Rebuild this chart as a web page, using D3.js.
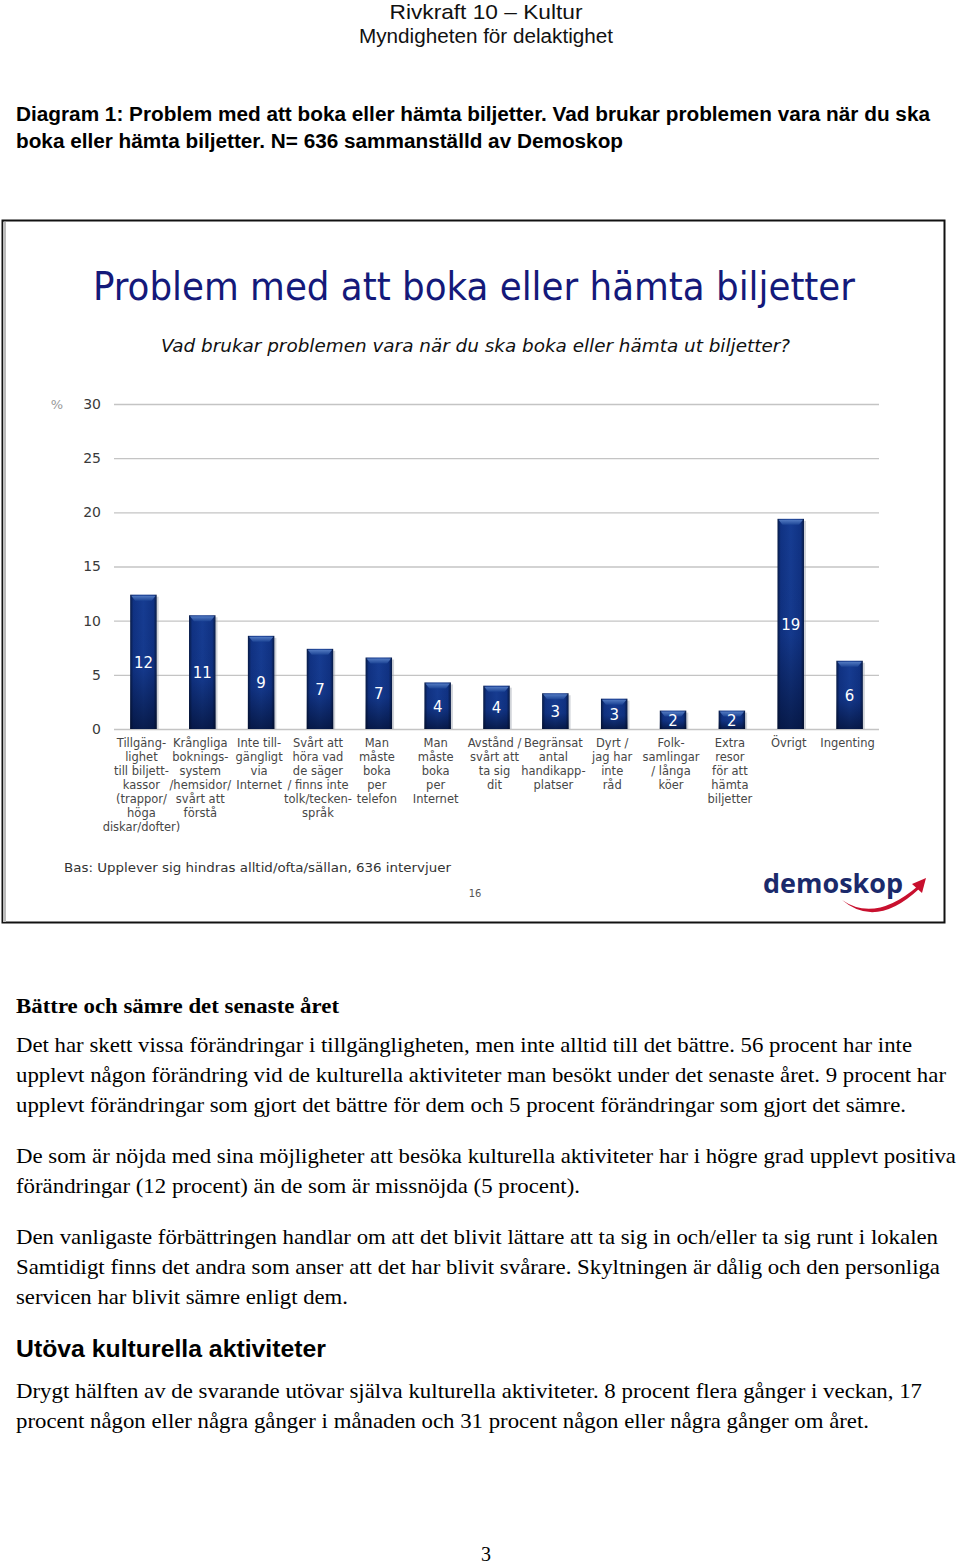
<!DOCTYPE html>
<html>
<head>
<meta charset="utf-8">
<script src="https://cdn.jsdelivr.net/npm/d3@7"></script>
<style>
  html, body { margin: 0; padding: 0; background: #fff; }
  svg { display: block; }
</style>
</head>
<body>
<svg id="page" width="960" height="1565"></svg>
<script>
// ---------- DATA ----------
const categories = [
  ["Tillgäng-", "lighet", "till biljett-", "kassor", "(trappor/", "höga", "diskar/dofter)"],
  ["Krångliga", "boknings-", "system", "/hemsidor/", "svårt att", "förstå"],
  ["Inte till-", "gängligt", "via", "Internet"],
  ["Svårt att", "höra vad", "de säger", "/ finns inte", "tolk/tecken-", "språk"],
  ["Man", "måste", "boka", "per", "telefon"],
  ["Man", "måste", "boka", "per", "Internet"],
  ["Avstånd /", "svårt att", "ta sig", "dit"],
  ["Begränsat", "antal", "handikapp-", "platser"],
  ["Dyrt /", "jag har", "inte", "råd"],
  ["Folk-", "samlingar", "/ långa", "köer"],
  ["Extra", "resor", "för att", "hämta", "biljetter"],
  ["Övrigt"],
  ["Ingenting"]
];
const values = [12.4, 10.5, 8.6, 7.4, 6.6, 4.3, 4.0, 3.3, 2.8, 1.7, 1.7, 19.4, 6.3];
const yTicks = [0, 5, 10, 15, 20, 25, 30];

const chartTitle = "Problem med att boka eller hämta biljetter";
const chartSubtitle = "Vad brukar problemen vara när du ska boka eller hämta ut biljetter?";
const baseNote = "Bas: Upplever sig hindras alltid/ofta/sällan, 636 intervjuer";
const slideNo = "16";

// ---------- PAGE ----------
const svg = d3.select("#page");
const defs = svg.append("defs");

function txt(g, s, x, y, opts) {
  const t = g.append("text").attr("x", x).attr("y", y).text(s);
  Object.entries(opts || {}).forEach(([k, v]) => t.attr(k, v));
  return t;
}

// Header
txt(svg, "Rivkraft 10 – Kultur", 486, 19, {"text-anchor": "middle", "font-family": "Liberation Sans Narrow, Liberation Sans, Arial", "font-size": 21, "fill": "#111", "textLength": 193, "lengthAdjust": "spacingAndGlyphs"});
txt(svg, "Myndigheten för delaktighet", 486, 43, {"text-anchor": "middle", "font-family": "Liberation Sans Narrow, Liberation Sans, Arial", "font-size": 20, "fill": "#111", "textLength": 254, "lengthAdjust": "spacingAndGlyphs"});

txt(svg, "Diagram 1: Problem med att boka eller hämta biljetter. Vad brukar problemen vara när du ska", 16, 121, {"font-family": "Liberation Sans Narrow, Liberation Sans, Arial", "font-weight": "bold", "font-size": 20, "fill": "#000", "textLength": 914, "lengthAdjust": "spacingAndGlyphs"});
txt(svg, "boka eller hämta biljetter. N= 636 sammanställd av Demoskop", 16, 148, {"font-family": "Liberation Sans Narrow, Liberation Sans, Arial", "font-weight": "bold", "font-size": 20, "fill": "#000", "textLength": 607, "lengthAdjust": "spacingAndGlyphs"});

// ---------- CHART FRAME ----------
const frame = svg.append("g");
frame.append("rect").attr("x", 2.5).attr("y", 220.5).attr("width", 942).attr("height", 702)
  .attr("fill", "#fff").attr("stroke", "#111").attr("stroke-width", 2);
frame.append("line").attr("x1", 4.5).attr("x2", 4.5).attr("y1", 222).attr("y2", 922)
  .attr("stroke", "#bbb").attr("stroke-width", 3);

txt(svg, chartTitle, 93, 300, {"font-family": "DejaVu Sans Condensed, DejaVu Sans, Verdana", "font-size": 39, "fill": "#14197a", "textLength": 762, "lengthAdjust": "spacingAndGlyphs"});
txt(svg, chartSubtitle, 161, 352, {"font-family": "DejaVu Sans Condensed, DejaVu Sans, Verdana", "font-style": "italic", "font-size": 18, "fill": "#111", "textLength": 629, "lengthAdjust": "spacingAndGlyphs"});

// ---------- SCALES ----------
const x = d3.scaleBand().domain(d3.range(categories.length)).range([114, 879])
  .paddingInner(0.55).paddingOuter(0.275);
const y = d3.scaleLinear().domain([0, 30]).range([729, 404]);

const plot = svg.append("g");

// gridlines via axis
const yAxis = d3.axisLeft(y).tickValues(yTicks).tickSize(-(879 - 114)).tickPadding(13);
const ax = plot.append("g").attr("transform", "translate(114,0)").call(yAxis);
ax.select(".domain").remove();
ax.selectAll(".tick line").attr("stroke", "#c4c4c4").attr("stroke-width", 1.3);
ax.selectAll(".tick text").attr("font-family", "DejaVu Sans, Verdana").attr("font-size", 14).attr("fill", "#3a3a3a");
txt(plot, "%", 57, 409, {"text-anchor": "middle", "font-family": "DejaVu Sans, Verdana", "font-size": 13, "fill": "#9a9a9a"});

// gradients
const hg = defs.append("linearGradient").attr("id", "barH").attr("x1", 0).attr("x2", 1).attr("y1", 0).attr("y2", 0);
[[0, "#071a45"], [0.12, "#103283"], [0.5, "#163c92"], [0.88, "#103283"], [1, "#071a45"]]
  .forEach(([o, c]) => hg.append("stop").attr("offset", o).attr("stop-color", c));
const vg = defs.append("linearGradient").attr("id", "barV").attr("x1", 0).attr("x2", 0).attr("y1", 0).attr("y2", 1);
[[0, "#000820", 0], [0.55, "#000820", 0.05], [1, "#000820", 0.6]]
  .forEach(([o, c, a]) => vg.append("stop").attr("offset", o).attr("stop-color", c).attr("stop-opacity", a));
const cg = defs.append("linearGradient").attr("id", "barCap").attr("x1", 0).attr("x2", 0).attr("y1", 0).attr("y2", 1);
[[0, "#5a82c8"], [1, "#1d4596"]].forEach(([o, c]) => cg.append("stop").attr("offset", o).attr("stop-color", c));

const bw = x.bandwidth();
const bars = plot.selectAll("g.bar").data(values).join("g").attr("class", "bar");
// shadow
bars.append("rect")
  .attr("x", (d, i) => x(i) + 2).attr("y", d => y(d) + 2)
  .attr("width", bw).attr("height", d => y(0) - y(d) - 2)
  .attr("fill", "#9aa0aa").attr("opacity", 0.45);
bars.append("rect")
  .attr("x", (d, i) => x(i)).attr("y", d => y(d))
  .attr("width", bw).attr("height", d => y(0) - y(d))
  .attr("fill", "url(#barH)");
bars.append("rect")
  .attr("x", (d, i) => x(i)).attr("y", d => y(d))
  .attr("width", bw).attr("height", d => y(0) - y(d))
  .attr("fill", "url(#barV)");
// top cap bevel
bars.append("path")
  .attr("d", (d, i) => {
    const x0 = x(i), yt = y(d);
    return `M${x0 + 1},${yt + 1}L${x0 + bw - 1},${yt + 1}L${x0 + bw - 5},${yt + 6}L${x0 + 5},${yt + 6}Z`;
  })
  .attr("fill", "url(#barCap)").attr("opacity", 0.9);
// value labels
bars.append("text")
  .attr("x", (d, i) => x(i) + bw / 2)
  .attr("y", d => (y(d) + y(0)) / 2 + 6)
  .attr("text-anchor", "middle")
  .attr("font-family", "DejaVu Sans, Verdana").attr("font-size", 15)
  .attr("fill", "#fff")
  .text(d => Math.round(d));

// category labels
const cat = plot.selectAll("text.cat").data(categories).join("text").attr("class", "cat")
  .attr("text-anchor", "middle")
  .attr("font-family", "DejaVu Sans, Verdana").attr("font-size", 11.5)
  .attr("fill", "#474747");
cat.each(function (lines, i) {
  const t = d3.select(this);
  lines.forEach((l, k) => {
    t.append("tspan").attr("x", x(i) + bw / 2 - 2).attr("y", 747 + k * 14).text(l);
  });
});

txt(svg, baseNote, 64, 872, {"font-family": "DejaVu Sans Condensed, DejaVu Sans, Verdana", "font-size": 13, "fill": "#333", "textLength": 387, "lengthAdjust": "spacingAndGlyphs"});
txt(svg, slideNo, 475, 897, {"text-anchor": "middle", "font-family": "DejaVu Sans Condensed, DejaVu Sans, Verdana", "font-size": 11, "fill": "#555"});

// logo
txt(svg, "demoskop", 763, 893, {"font-family": "Open Sans, DejaVu Sans", "font-weight": "bold", "font-size": 27, "fill": "#1b2a6b", "textLength": 140, "lengthAdjust": "spacingAndGlyphs"});
svg.append("path")
  .attr("d", "M842,900 Q875,923 918,886 L919,889 Q876,929 842,900 Z")
  .attr("fill", "#c8102e");
svg.append("path")
  .attr("d", "M912,884 L926,878 L922,893 Z")
  .attr("fill", "#c8102e");

// ---------- BODY TEXT ----------
const serif = "Liberation Serif, Times New Roman, serif";
txt(svg, "Bättre och sämre det senaste året", 16, 1013, {"font-family": serif, "font-weight": "bold", "font-size": 21, "fill": "#000", "textLength": 323, "lengthAdjust": "spacingAndGlyphs"});

const bodyLines = [
  ["Det har skett vissa förändringar i tillgängligheten, men inte alltid till det bättre. 56 procent har inte", 1052, 896],
  ["upplevt någon förändring vid de kulturella aktiviteter man besökt under det senaste året. 9 procent har", 1082, 930],
  ["upplevt förändringar som gjort det bättre för dem och 5 procent förändringar som gjort det sämre.", 1112, 890],
  ["De som är nöjda med sina möjligheter att besöka kulturella aktiviteter har i högre grad upplevt positiva", 1163, 940],
  ["förändringar (12 procent) än de som är missnöjda (5 procent).", 1193, 564],
  ["Den vanligaste förbättringen handlar om att det blivit lättare att ta sig in och/eller ta sig runt i lokalen", 1244, 922],
  ["Samtidigt finns det andra som anser att det har blivit svårare. Skyltningen är dålig och den personliga", 1274, 924],
  ["servicen har blivit sämre enligt dem.", 1304, 332],
  ["Drygt hälften av de svarande utövar själva kulturella aktiviteter. 8 procent flera gånger i veckan, 17", 1398, 906],
  ["procent någon eller några gånger i månaden och 31 procent någon eller några gånger om året.", 1428, 853]
];
bodyLines.forEach(([s, yy, w]) => {
  txt(svg, s, 16, yy, {"font-family": serif, "font-size": 21, "fill": "#000", "textLength": w, "lengthAdjust": "spacingAndGlyphs"});
});
txt(svg, "Utöva kulturella aktiviteter", 16, 1357, {"font-family": "Liberation Sans Narrow, Liberation Sans, Arial", "font-weight": "bold", "font-size": 23, "fill": "#000", "textLength": 310, "lengthAdjust": "spacingAndGlyphs"});
txt(svg, "3", 486, 1561, {"text-anchor": "middle", "font-family": serif, "font-size": 20, "fill": "#000"});
</script>
</body>
</html>
